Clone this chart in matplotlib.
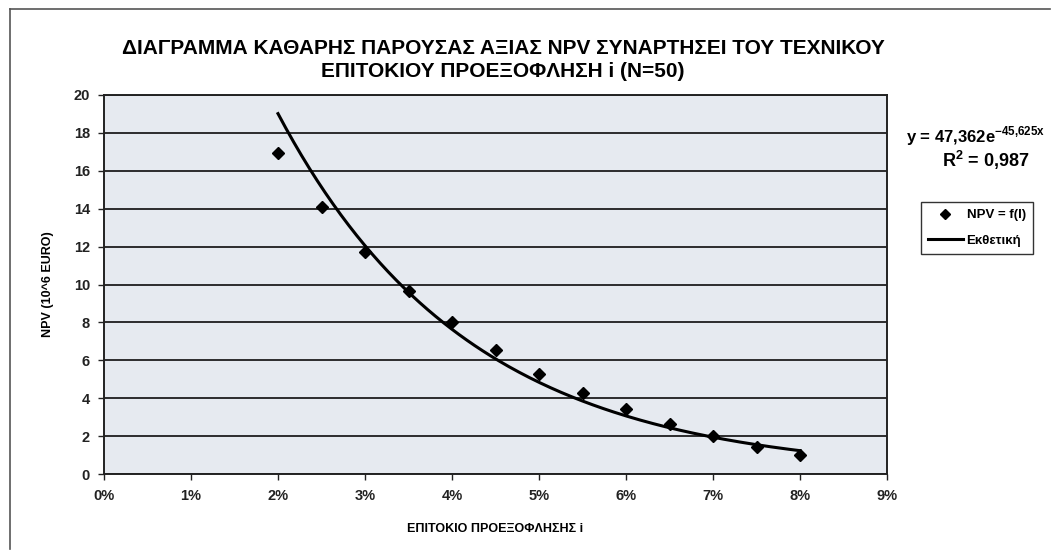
import numpy as np
import matplotlib
matplotlib.use("Agg")
import matplotlib.pyplot as plt
from matplotlib.ticker import FuncFormatter
from matplotlib.lines import Line2D

plt.rcParams["font.family"] = ["Liberation Sans", "DejaVu Sans"]

# discount rate (fraction) and NPV (10^6 EURO)
rate = [0.02, 0.025, 0.03, 0.035, 0.04, 0.045, 0.05, 0.055, 0.06, 0.065, 0.07, 0.075, 0.08]
npv = [16.95, 14.1, 11.7, 9.65, 8.0, 6.55, 5.3, 4.3, 3.45, 2.65, 2.0, 1.45, 1.0]

# exponential trend line coefficients, as printed on the chart
trend_a = 47.362
trend_b = -45.625
r_squared = 0.987

title = "ΔΙΑΓΡΑΜΜΑ ΚΑΘΑΡΗΣ ΠΑΡΟΥΣΑΣ ΑΞΙΑΣ NPV ΣΥΝΑΡΤΗΣΕΙ ΤΟΥ ΤΕΧΝΙΚΟΥ\nΕΠΙΤΟΚΙΟΥ ΠΡΟΕΞΟΦΛΗΣΗ i (N=50)"
xlabel = "ΕΠΙΤΟΚΙΟ ΠΡΟΕΞΟΦΛΗΣΗΣ i"
ylabel = "NPV (10^6 EURO)"

fig = plt.figure(figsize=(10.54, 5.55), dpi=100)
fig.patch.set_facecolor("white")

# outer chart-area border (left and top visible)
fig.add_artist(Line2D([10 / 1054, 10 / 1054], [1 - 9 / 555, 1 - 549 / 555],
                      transform=fig.transFigure, color="#555555", lw=1.2))
fig.add_artist(Line2D([10 / 1054, 1050 / 1054], [1 - 9 / 555, 1 - 9 / 555],
                      transform=fig.transFigure, color="#555555", lw=1.2))

ax = fig.add_axes([104 / 1054, 81 / 555, 783 / 1054, 379 / 555])
ax.set_facecolor("#e6eaf0")

xs = np.linspace(min(rate), max(rate), 200)
ax.plot(xs, trend_a * np.exp(trend_b * xs), color="black", lw=2.2, zorder=3)
ax.plot(rate, npv, linestyle="none", marker="D", color="black", markersize=6, zorder=4)

ax.set_xlim(0, 0.09)
ax.set_ylim(0, 20)
ax.set_xticks(np.arange(0, 0.0901, 0.01))
ax.set_yticks(np.arange(0, 21, 2))
ax.xaxis.set_major_formatter(FuncFormatter(lambda v, p: f"{v * 100:.0f}%"))
ax.yaxis.grid(True, color="#1e1e1e", lw=1.3)
ax.set_axisbelow(True)
for s in ax.spines.values():
    s.set_color("#222222")
    s.set_linewidth(1.4)

ax.tick_params(axis="both", direction="out", length=4, width=1, colors="#222222",
               labelsize=10.5)
for lab in ax.get_xticklabels() + ax.get_yticklabels():
    lab.set_fontweight("bold")
ax.tick_params(axis="x", pad=7)
ax.tick_params(axis="y", pad=6)

ax.set_xlabel(xlabel, fontsize=9, fontweight="bold", labelpad=14)
ax.set_ylabel(ylabel, fontsize=9, fontweight="bold", labelpad=14)

fig.text(503 / 1054, 1 - 60 / 555, title, ha="center", va="center", fontsize=15,
         fontweight="bold", linespacing=1.3)

# trend-line equation and R^2
fig.text(906 / 1054, 1 - 142 / 555,
         "y = 47,362e$^{\\mathregular{-45{,}625x}}$", fontsize=12, fontweight="bold",
         ha="left", va="baseline")
fig.text(986 / 1054, 1 - 167 / 555, "R$^{\\mathregular{2}}$ = 0,987",
         fontsize=13, fontweight="bold", ha="center", va="baseline")

handles = [
    Line2D([], [], linestyle="none", marker="D", color="black", markersize=5.5),
    Line2D([], [], color="black", lw=2.2),
]
leg = fig.legend(handles, ["NPV = f(I)", "Εκθετική"], loc="upper left",
                 bbox_to_anchor=(921 / 1054, 1 - 202 / 555), frameon=True,
                 fancybox=False, edgecolor="black", fontsize=9.5, handlelength=2.6,
                 borderpad=0.55, labelspacing=1.0, handletextpad=0.3, borderaxespad=0)
leg.get_frame().set_linewidth(1.0)
for t in leg.get_texts():
    t.set_fontweight("bold")

fig.savefig("out.png", dpi=100, facecolor="white")
